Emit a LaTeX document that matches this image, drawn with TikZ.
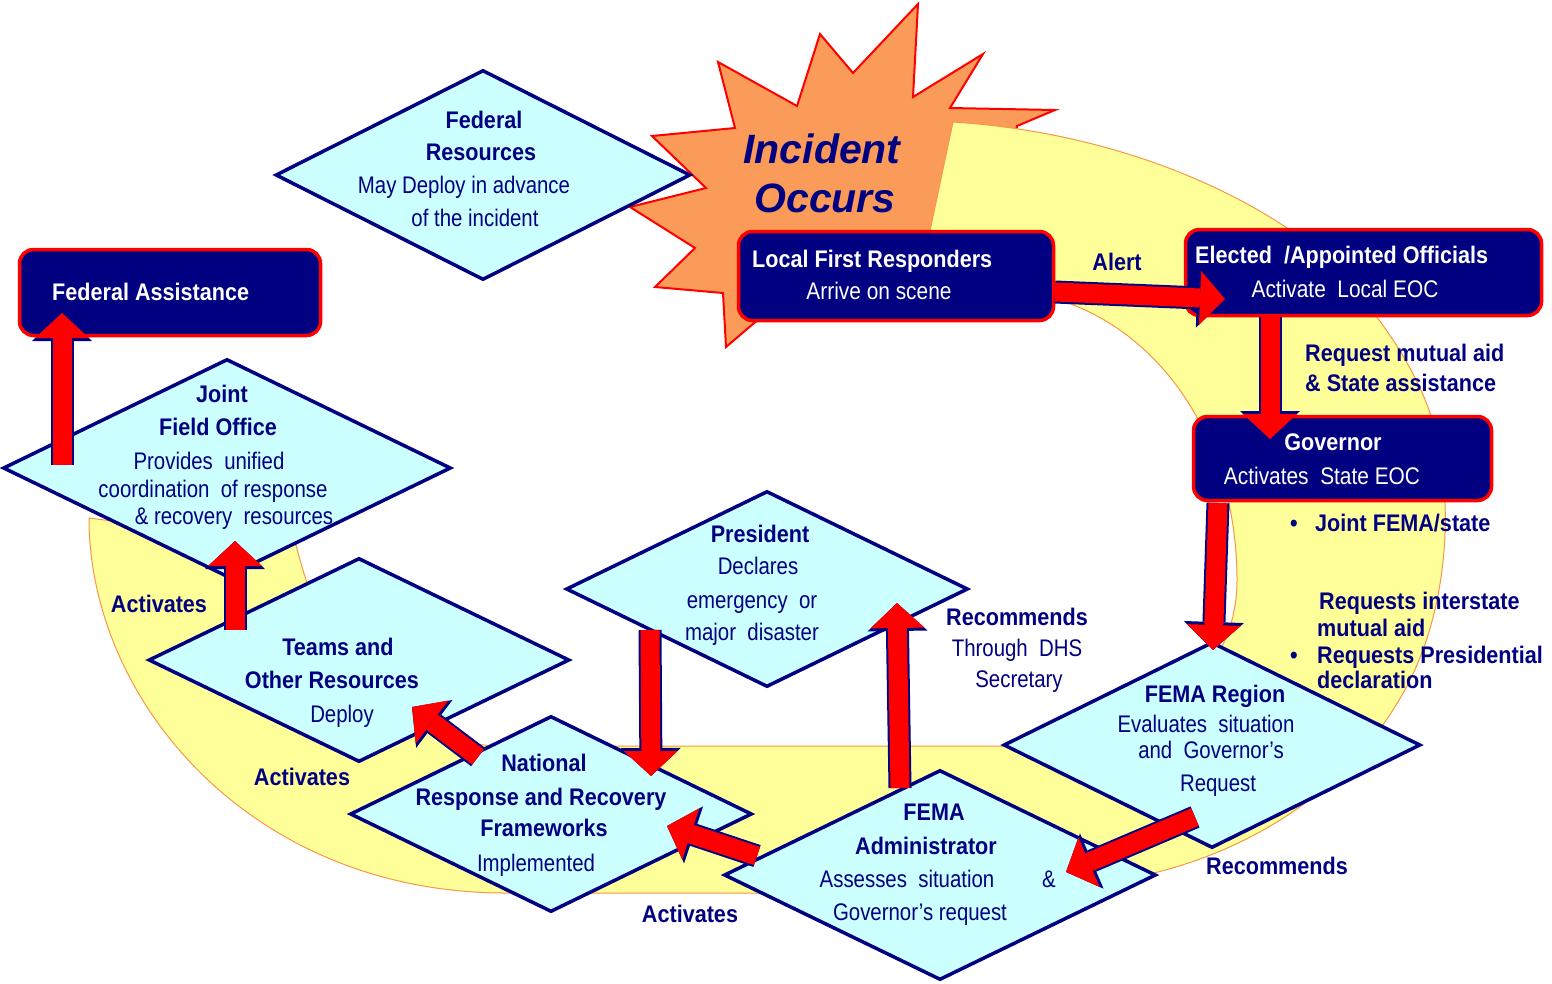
\documentclass[tikz,border=0pt]{standalone}
\usepackage{fontspec}
\setmainfont{Liberation Sans}
\newfontfamily\fbold[FakeStretch=0.9]{Liberation Sans}
\newfontfamily\freg[FakeStretch=0.85]{Liberation Sans}
\newfontfamily\fwht[FakeStretch=0.87]{Liberation Sans}
\usetikzlibrary{shapes.geometric,arrows.meta}
\definecolor{navyc}{RGB}{0,0,128}
\definecolor{cyanfill}{RGB}{204,255,255}
\definecolor{yellowfill}{RGB}{255,255,153}
\definecolor{orangeline}{RGB}{247,150,70}
\definecolor{burstfill}{RGB}{250,155,90}
\definecolor{redc}{RGB}{255,0,0}
\begin{document}
\begin{tikzpicture}[x=1pt,y=-1pt,
  dia/.style={diamond, draw=navyc, line width=3.5pt, fill=cyanfill, inner sep=0pt},
  box/.style={rectangle, draw=redc, fill=navyc, line width=3.5pt, rounded corners=14pt, inner sep=0pt},
  bt/.style={text=navyc, font=\fontsize{24}{28}\selectfont\fbold\bfseries, inner sep=0pt, anchor=base},
  rt/.style={text=navyc, font=\fontsize{24}{28}\selectfont\freg, inner sep=0pt, anchor=base},
  wb/.style={text=white, font=\fontsize{24}{28}\selectfont\fbold\bfseries, inner sep=0pt, anchor=base},
  wr/.style={text=white, font=\fontsize{24}{28}\selectfont\fwht, inner sep=0pt, anchor=base},
  inc/.style={text=navyc, font=\fontsize{41}{48}\selectfont\bfseries\itshape, inner sep=0pt, anchor=base},
  barrow/.style={draw=redc, line width=19pt, -{Triangle[width=54pt,length=25pt,line width=0pt]},
    preaction={draw=navyc, line width=23pt, -{Triangle[width=60pt,length=28pt,line width=0pt]}}},
  yband/.style={fill=yellowfill, draw=orangeline, line width=1pt},
  burst/.style={fill=burstfill, draw=redc, line width=2pt, line join=miter}
]
\useasboundingbox (0,0) rectangle (1552,983);

% starburst
\draw[burst] (918,4) -- (913,97) -- (983,54) -- (950,108) -- (1055,110) -- (1017,126)
  -- (1000,220) -- (900,300) -- (760,318) -- (726,347) -- (723,293) -- (655,287)
  -- (695,248) -- (630,207) -- (706,188) -- (652,136) -- (735,128) -- (718,62)
  -- (797,106) -- (820,34) -- (853,73) -- cycle;

% yellow band
\draw[yband] (953,122) .. controls (1080,130) and (1200,170) .. (1287,228)
  .. controls (1340,265) and (1405,340) .. (1430,413)
  .. controls (1455,490) and (1450,600) .. (1410,680)
  .. controls (1360,780) and (1260,850) .. (1141,876)
  .. controls (1080,890) and (1000,893) .. (940,893)
  -- (506,893)
  .. controls (250,893) and (89,700) .. (89,518)
  -- (296,545)
  .. controls (330,680) and (400,746) .. (506,746)
  -- (1010,746)
  .. controls (1150,746) and (1237,680) .. (1237,580)
  .. controls (1237,450) and (1170,340) .. (1068,303)
  -- (927,245) -- cycle;

% diamonds
\node[dia, minimum width=415pt, minimum height=210pt] (fedres) at (483,175) {};
\node[dia, minimum width=448pt, minimum height=218pt] (jfo) at (227,468) {};
\node[dia, minimum width=421pt, minimum height=204pt] (teams) at (359,660) {};
\node[dia, minimum width=402pt, minimum height=196pt] (pres) at (767,589) {};
\node[dia, minimum width=402pt, minimum height=196pt] (nrrf) at (551,814) {};
\node[dia, minimum width=432pt, minimum height=210pt] (admin) at (940,875) {};
\node[dia, minimum width=417pt, minimum height=206pt] (region) at (1212,745) {};

% boxes
\node[box, minimum width=301pt, minimum height=86pt] (fedassist) at (170,292.5) {};
\node[box, minimum width=315pt, minimum height=89pt] (local) at (896,276) {};
\node[box, minimum width=356pt, minimum height=86pt] (elected) at (1363.5,272.5) {};
\node[box, minimum width=298pt, minimum height=84pt] (gov) at (1342.5,458.5) {};

% arrow end points
\coordinate (jfoUp) at (62,465);      \coordinate (faIn) at (62,313);
\coordinate (teamsUp) at (235,630);   \coordinate (jfoIn) at (235,541);
\coordinate (nrrfOut) at (478,757);   \coordinate (teamsIn) at (412,707);
\coordinate (adminOut) at (757,856);  \coordinate (nrrfIn) at (667,826);
\coordinate (adminUp) at (900,788);   \coordinate (presIn) at (897,603);
\coordinate (presDown) at (650,630);  \coordinate (nrrfTop) at (651,776);
\coordinate (regionOut) at (1195,817);\coordinate (adminIn) at (1066,872);
\coordinate (govDown) at (1218,503);  \coordinate (regionIn) at (1213,650);
\coordinate (electedDown) at (1270,317); \coordinate (govIn) at (1270,439);
\coordinate (localOut) at (1055,292); \coordinate (electedIn) at (1225,299);

\draw[barrow] (jfoUp) -- (faIn);
\draw[barrow] (teamsUp) -- (jfoIn);
\draw[barrow] (nrrfOut) -- (teamsIn);
\draw[barrow] (adminOut) -- (nrrfIn);
\draw[barrow] (adminUp) -- (presIn);
\draw[barrow] (presDown) -- (nrrfTop);
\draw[barrow] (regionOut) -- (adminIn);
\draw[barrow] (govDown) -- (regionIn);
\draw[barrow] (electedDown) -- (govIn);
\draw[barrow] (localOut) -- (electedIn);

% texts
\node[bt] (t-fr1) at (484,128) {Federal};
\node[bt] (t-fr2) at (481,160) {Resources};
\node[rt] (t-fr3) at (464,193) {May Deploy in advance};
\node[rt] (t-fr4) at (475,226) {of the incident};

\node[inc] (t-inc1) at (822,163) {Incident};
\node[inc] (t-inc2) at (825,212) {Occurs};

\node[wb, anchor=base west] (t-loc1) at (752,267) {Local First Responders};
\node[wr] (t-loc2) at (879,299) {Arrive on scene};
\node[bt] (t-alert) at (1117,270) {Alert};
\node[wb, anchor=base west] (t-el1) at (1195,263) {Elected\ \ /Appointed Officials};
\node[wr] (t-el2) at (1345,297) {Activate\ \ Local EOC};
\node[wb, anchor=base west] (t-fa) at (52,300) {Federal Assistance};
\node[bt, anchor=base west] (t-req1) at (1305,361) {Request mutual aid};
\node[bt, anchor=base west] (t-req2) at (1305,391) {\& State assistance};
\node[wb] (t-gov1) at (1333,450) {Governor};
\node[wr] (t-gov2) at (1322,484) {Activates\ \ State EOC};

\node[bt] (t-b1) at (1294,531) {•};
\node[bt, anchor=base west] (t-joint) at (1315,531) {Joint FEMA/state};
\node[bt, anchor=base west] (t-ri1) at (1319,609) {Requests interstate};
\node[bt, anchor=base west] (t-ri2) at (1317,636) {mutual aid};
\node[bt] (t-b2) at (1294,663) {•};
\node[bt, anchor=base west] (t-rp1) at (1317,663) {Requests Presidential};
\node[bt, anchor=base west] (t-rp2) at (1317,688) {declaration};

\node[bt] (t-j1) at (222,402) {Joint};
\node[bt] (t-j2) at (218,435) {Field Office};
\node[rt] (t-j3) at (209,469) {Provides\ \ unified};
\node[rt] (t-j4) at (213,497) {coordination\ \ of response};
\node[rt] (t-j5) at (234,524) {\& recovery\ \ resources};

\node[bt] (t-act1) at (159,612) {Activates};
\node[bt] (t-act2) at (302,785) {Activates};
\node[bt] (t-act3) at (690,922) {Activates};

\node[bt] (t-tm1) at (338,655) {Teams and};
\node[bt] (t-tm2) at (332,688) {Other Resources};
\node[rt] (t-tm3) at (342,722) {Deploy};

\node[bt] (t-p1) at (760,542) {President};
\node[rt] (t-p2) at (758,574) {Declares};
\node[rt] (t-p3) at (752,608) {emergency\ \ or};
\node[rt] (t-p4) at (752,640) {major\ \ disaster};

\node[bt] (t-rc1) at (1017,625) {Recommends};
\node[rt] (t-rc2) at (1017,656) {Through\ \ DHS};
\node[rt] (t-rc3) at (1019,687) {Secretary};

\node[bt] (t-rg1) at (1215,702) {FEMA Region};
\node[rt] (t-rg2) at (1206,732) {Evaluates\ \ situation};
\node[rt] (t-rg3) at (1211,758) {and\ \ Governor’s};
\node[rt] (t-rg4) at (1218,791) {Request};

\node[bt] (t-n1) at (544,771) {National};
\node[bt] (t-n2) at (541,805) {Response and Recovery};
\node[bt] (t-n3) at (544,836) {Frameworks};
\node[rt] (t-n4) at (536,871) {Implemented};

\node[bt] (t-a1) at (934,820) {FEMA};
\node[bt] (t-a2) at (926,854) {Administrator};
\node[rt] (t-a3) at (907,887) {Assesses\ \ situation};
\node[rt] (t-a4) at (1049,887) {\&};
\node[rt] (t-a5) at (920,920) {Governor’s request};

\node[bt] (t-rc4) at (1277,874) {Recommends};
\end{tikzpicture}
\end{document}
